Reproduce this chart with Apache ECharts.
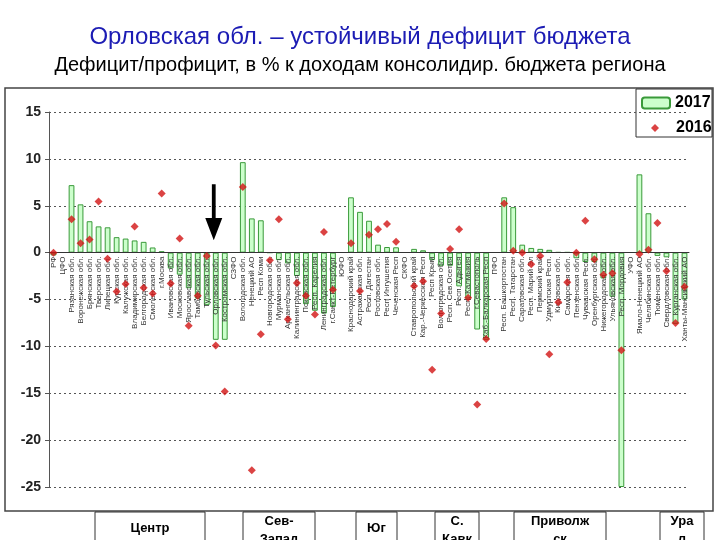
<!DOCTYPE html>
<html><head><meta charset="utf-8">
<script src="https://cdn.jsdelivr.net/npm/echarts@6/dist/echarts.min.js"></script>
<style>html,body{margin:0;padding:0;background:#fff}#c{width:720px;height:540px}</style>
</head><body><div id="c"></div>
<script>
const categories = ['РФ','ЦФО','Рязанская обл.','Воронежская обл.','Брянская обл.','Тверская обл.','Липецкая обл.','Курская обл.','Калужская обл.','Владимирская обл.','Белгородская обл.','Смоленская обл.','г.Москва','Ивановская обл.','Московская обл.','Ярославская обл.','Тамбовская обл.','Тульская обл.','Орловская обл.','Костромская обл.','СЗФО','Вологодская обл.','Ненецкий АО','Респ Коми','Новгородская обл.','Мурманская обл.','Архангельская обл.','Калининградская обл.','Псковская обл.','Респ. Карелия','Ленинградская обл.','г.Санкт-Петербург','ЮФО','Краснодарский край','Астраханская обл.','Респ. Дагестан','Ростовская обл.','Респ Ингушетия','Чеченская Респ','СКФО','Ставропольский край','Кар.-Черкесская Респ','Респ Крым','Волгоградская обл.','Респ. Сев.Осетия','Респ. Адыгея','Респ. Калмыкия','г.Севастополь','Каб.-Балкарская Респ','ПФО','Респ. Башкортостан','Респ. Татарстан','Саратовская обл.','Респ. Марий Эл','Пермский край','Удмуртская Респ.','Кировская обл.','Самарская обл.','Пензенская обл.','Чувашская Респ.','Оренбургская обл.','Нижегородская обл.','Ульяновская обл.','Респ. Мордовия','УФО','Ямало-Ненецкий АО','Челябинская обл.','Тюменская обл.','Свердловская обл.','Курганская обл.','Ханты-Мансийский АО'];
const values2017 = [-0.3,null,7.2,5.15,3.35,2.8,2.7,1.65,1.5,1.3,1.15,0.55,0.15,-1.7,-2.35,-3.8,-4.9,-5.6,-9.3,-9.3,null,9.65,3.65,3.45,0,-0.8,-1.15,-2.5,-5.5,-6.2,-6.5,-5.8,null,5.9,4.35,3.4,0.85,0.6,0.57,null,0.4,0.25,-0.8,-1.4,-1.4,-3.6,-4.9,-8.2,-9.3,null,5.9,4.85,0.85,0.5,0.4,0.3,0.05,0.05,-0.6,-1.0,-1.0,-2.75,-4.7,-25,null,8.35,4.2,-0.35,-0.5,-7.6,-5.0];
const values2016 = [0,null,3.55,1.0,1.4,5.45,-0.65,-4.15,-3.35,2.8,-3.75,-4.35,6.3,-3.3,1.5,-7.8,-4.6,-0.35,-9.9,-14.8,null,7.0,-23.2,-8.7,-0.8,3.55,-7.1,-3.25,-4.6,-6.6,2.2,-3.95,null,1.0,-4.1,1.9,2.5,3.05,1.15,null,-3.55,-3.05,-12.5,-6.5,0.4,2.5,-4.8,-16.2,-9.2,null,5.25,0.2,0.0,-1.25,-0.35,-10.85,-5.3,-3.15,0.0,3.4,-0.7,-2.35,-2.2,-10.4,null,-0.15,0.3,3.15,-1.95,-7.5,-3.65];
const yTicks = [-25,-20,-15,-10,-5,0,5,10,15];
const seriesNames = ['2017','2016'];
const regionNames = ['Центр','Сев-\nЗапад','Юг','С.\nКавк','Приволж\nск','Ура\nл'];
const highlighted = 'Орловская обл.';

const FONT = '"Liberation Sans", Arial, sans-serif';
const regionBoxes = [[95,110],[243,72],[356,41],[435,44],[514,92],[660,44]];
const graphics = [
  {type:'rect',shape:{x:5,y:88,width:708,height:423},style:{fill:'none',stroke:'#444',lineWidth:1.5},z:-1},
  {type:'rect',shape:{x:636,y:89,width:76,height:48},style:{fill:'#fff',stroke:'#333',lineWidth:1},z:0}
];
regionNames.forEach((n,i)=>{
  const [x,w]=regionBoxes[i];
  graphics.push({type:'rect',shape:{x:x,y:512,width:w,height:40},style:{fill:'#fff',stroke:'#333',lineWidth:1}});
  graphics.push({type:'text',x:x+w/2,y:n.indexOf('\n')>=0?512:519,style:{text:n,fill:'#000',font:'bold 13px '+FONT,align:'center',verticalAlign:'top',lineHeight:18}});
});

const chart = echarts.init(document.getElementById('c'));
const legendText = {fontWeight:'bold',fontSize:16,color:'#000',fontFamily:FONT};
chart.setOption({
  animation:false,
  textStyle:{fontFamily:FONT},
  title:[
    {text:'Орловская обл. – устойчивый дефицит бюджета',left:'center',top:20,textStyle:{color:'#1c1cb4',fontSize:24,fontWeight:'normal',fontFamily:FONT}},
    {text:'Дефицит/профицит, в % к доходам консолидир. бюджета региона',left:'center',top:50,textStyle:{color:'#000',fontSize:20,fontWeight:'normal',fontFamily:FONT}}
  ],
  legend:[
    {left:641,top:95,padding:0,itemWidth:28,itemHeight:11,data:[seriesNames[0]],textStyle:legendText,z:4},
    {left:651,top:120,padding:0,itemWidth:8,itemHeight:8,data:[seriesNames[1]],textStyle:Object.assign({padding:[0,0,0,12]},legendText),z:4}
  ],
  grid:{left:49,right:31,top:112,bottom:53,containLabel:false,outerBoundsMode:'none'},
  xAxis:{type:'category',data:categories,z:3,axisLine:{onZero:false,lineStyle:{color:'#333'}},axisTick:{show:false},
    axisLabel:{rotate:90,interval:0,fontSize:8,color:'#333',margin:4}},
  yAxis:{type:'value',min:yTicks[0],max:yTicks[yTicks.length-1],interval:5,
    axisLine:{show:true,lineStyle:{color:'#555'}},axisTick:{show:true,length:4,lineStyle:{color:'#555'}},
    axisLabel:{fontSize:14,fontWeight:'bold',color:'#222',margin:8},
    splitLine:{lineStyle:{type:[2,3],color:'#555'}}},
  series:[
    {name:seriesNames[0],type:'bar',data:values2017,barWidth:'64%',z:2,
      itemStyle:{color:'#ccffcc',borderColor:'#3a9a3a',borderWidth:1},
      markPoint:{silent:true,symbol:'path://M7,0 L11,0 L11,33 L18,33 L9,55 L0,33 L7,33 Z',symbolSize:[17,56],symbolOffset:[-2,0],
        itemStyle:{color:'#000'},label:{show:false},data:[{coord:[highlighted,4.3]}]}},
    {name:seriesNames[1],type:'scatter',data:values2016,symbol:'diamond',symbolSize:8,z:5,itemStyle:{color:'#d21414'}}
  ],
  graphic:graphics
});
// place the category axis on the zero line using the value axis scale
for (let k=0;k<3;k++){
  const zeroPx = chart.convertToPixel({yAxisIndex:0}, 0);
  const minPx = chart.convertToPixel({yAxisIndex:0}, yTicks[0]);
  chart.setOption({xAxis:{offset:zeroPx - minPx}});
}
</script></body></html>
